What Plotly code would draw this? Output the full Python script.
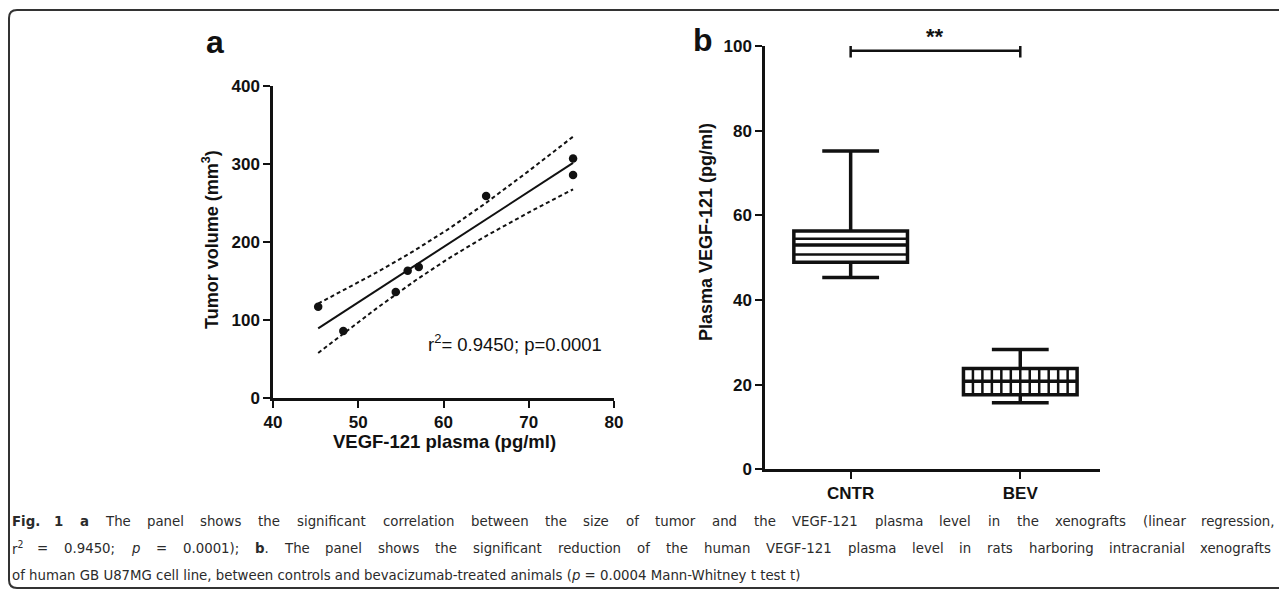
import re
import numpy as np
import plotly.graph_objects as go

W, H = 1287, 590
OFF = 8  # the page body keeps its default 8px margin

# ---------------- Panel a data ----------------
vegf_plasma = [45.3, 48.25, 54.4, 55.8, 57.1, 65.0, 75.2, 75.2]
tumor_volume = [117, 86, 136, 163, 168, 259, 307, 286]
a_xticks = [40, 50, 60, 70, 80]
a_yticks = [0, 100, 200, 300, 400]
a_stat_text = "r<sup>2</sup>= 0.9450; p=0.0001"

# ---------------- Panel b data ----------------
groups = ["CNTR", "BEV"]
b_lowerfence = [45.3, 15.7]
b_q1 = [48.9, 17.6]
b_median = [53.0, 20.8]
b_q3 = [56.3, 23.8]
b_upperfence = [75.2, 28.3]
b_yticks = [0, 20, 40, 60, 80, 100]
sig_label = "**"
sig_level = 98.9
sig_cap = [97.3, 100.4]

caption_lines = [
    "<b>Fig.</b> <b>1</b> <b>a</b> The panel shows the significant correlation between the size of tumor and the VEGF-121 plasma level in the xenografts (linear regression,",
    "r<sup>2</sup> = 0.9450; <i>p</i> = 0.0001); <b>b</b>. The panel shows the significant reduction of the human VEGF-121 plasma level in rats harboring intracranial xenografts",
    "of human GB U87MG cell line, between controls and bevacizumab-treated animals (<i>p</i> = 0.0004 Mann-Whitney t test t)",
]
caption_justified = [True, True, False]

# ---------------- regression + 95% confidence band ----------------
xa = np.array(vegf_plasma, dtype=float)
ya = np.array(tumor_volume, dtype=float)
n = len(xa)
slope, intercept = np.polyfit(xa, ya, 1)
xs = np.linspace(xa.min(), xa.max(), 80)
yfit = slope * xs + intercept
resid = ya - (slope * xa + intercept)
s = np.sqrt(np.sum(resid ** 2) / (n - 2))
t_crit = 2.4469  # t(0.975, df=6)
sxx = np.sum((xa - xa.mean()) ** 2)
half = t_crit * s * np.sqrt(1.0 / n + (xs - xa.mean()) ** 2 / sxx)
upper = yfit + half
lower = yfit - half


def px(xp):
    return (xp - OFF) / W


def py(yp):
    return 1 - (yp - OFF) / H


FONT = "Liberation Sans, Arial, sans-serif"
INK = "#111111"
BOX_W = 0.67

fig = go.Figure()

# panel a traces
for band in (upper, lower):
    fig.add_trace(go.Scatter(x=xs, y=band, mode="lines", xaxis="x", yaxis="y",
                             line=dict(color=INK, width=2, dash="4px,3px"), showlegend=False))
fig.add_trace(go.Scatter(x=xs, y=yfit, mode="lines", xaxis="x", yaxis="y",
                         line=dict(color=INK, width=2), showlegend=False))
fig.add_trace(go.Scatter(x=vegf_plasma, y=tumor_volume, mode="markers", xaxis="x", yaxis="y",
                         marker=dict(color=INK, size=8.5), showlegend=False))

# panel b boxes
fig.add_trace(go.Box(x=groups, q1=b_q1, median=b_median, q3=b_q3,
                     lowerfence=b_lowerfence, upperfence=b_upperfence,
                     xaxis="x2", yaxis="y2", width=BOX_W, whiskerwidth=0.5,
                     line=dict(color=INK, width=3.5), fillcolor="white",
                     showlegend=False))

# hatching inside the boxes (derived from box quartiles)
q1c, q3c = b_q1[0], b_q3[0]
for k in (1, 3):
    yy = q1c + k * (q3c - q1c) / 4
    fig.add_shape(type="line", xref="x2", yref="y2", x0=-BOX_W / 2, x1=BOX_W / 2, y0=yy, y1=yy,
                  line=dict(color=INK, width=2.5), layer="above")
for k in range(1, 12):
    xx = 1 - BOX_W / 2 + k * BOX_W / 12
    fig.add_shape(type="line", xref="x2", yref="y2", x0=xx, x1=xx, y0=b_q1[1], y1=b_q3[1],
                  line=dict(color=INK, width=2.5), layer="above")

axis_common = dict(showline=True, linecolor=INK, linewidth=2.5, ticks="outside",
                   ticklen=7, tickwidth=2, tickcolor=INK, showgrid=False, zeroline=False,
                   tickfont=dict(family=FONT, size=17, color=INK, weight="bold"))

fig.update_layout(
    template="none",
    width=W, height=H, autosize=False,
    margin=dict(l=0, r=0, t=0, b=0),
    paper_bgcolor="white", plot_bgcolor="white",
    font=dict(family=FONT, color=INK),
    boxmode="overlay", showlegend=False,
    xaxis=dict(domain=[px(273), px(614)], range=[40, 80], tickvals=a_xticks,
               anchor="y", **axis_common),
    yaxis=dict(domain=[py(398), py(86)], range=[0, 400], tickvals=a_yticks,
               anchor="x", **axis_common),
    xaxis2=dict(domain=[px(765), px(1100)], range=[-0.505, 1.47], type="category",
                categoryorder="array", categoryarray=groups, anchor="y2", **axis_common),
    yaxis2=dict(domain=[py(469.3), py(46)], range=[0, 100], tickvals=b_yticks,
                anchor="x2", **axis_common),
)

# significance bracket
fig.add_shape(type="line", xref="x2", yref="y2", x0=0, x1=1, y0=sig_level, y1=sig_level,
              line=dict(color=INK, width=2.5))
for cx in [0, 1]:
    fig.add_shape(type="line", xref="x2", yref="y2", x0=cx, x1=cx, y0=sig_cap[0], y1=sig_cap[1],
                  line=dict(color=INK, width=2.5))
fig.add_annotation(x=0.5, y=sig_level, xref="x2", yref="y2", text=sig_label, showarrow=False,
                   yanchor="bottom", font=dict(family=FONT, size=22, color=INK, weight="bold"))

# panel labels and axis titles
ann = [
    dict(x=px(215), y=py(42), text="<b>a</b>", size=32, angle=0),
    dict(x=px(703), y=py(40), text="<b>b</b>", size=32, angle=0),
    dict(x=px(210), y=py(240), text="<b>Tumor volume (mm<sup>3</sup>)</b>", size=18, angle=-90),
    dict(x=px(444), y=py(442), text="<b>VEGF-121 plasma (pg/ml)</b>", size=18.5, angle=0),
    dict(x=px(706), y=py(232), text="<b>Plasma VEGF-121 (pg/ml)</b>", size=18, angle=-90),
]
for a in ann:
    fig.add_annotation(x=a["x"], y=a["y"], xref="paper", yref="paper", text=a["text"],
                       showarrow=False, textangle=a["angle"], xanchor="center", yanchor="middle",
                       font=dict(family=FONT, size=a["size"], color=INK))

fig.add_annotation(x=px(426), y=py(343), xref="paper", yref="paper", text=a_stat_text,
                   showarrow=False, xanchor="left", yanchor="middle",
                   font=dict(family=FONT, size=18.5, color=INK))

# ---------------- caption (justified like the journal layout) ----------------
CAP_FONT = "DejaVu Sans Condensed, DejaVu Sans, sans-serif"
CAP_SIZE = 14.8
CAP_COLOR = "#2b2b2b"
LAST_LINE_WIDTH = 790.6  # measured natural width of the last line at CAP_SIZE
# DejaVu Sans advance widths (1/2048 em), used for relative word widths
_DV = {" ": 651, "(": 799, ")": 799, ",": 651, "-": 739, ".": 651, "/": 690, ";": 690,
       ":": 690, "=": 1716,
       "A": 1401, "B": 1405, "C": 1430, "D": 1577, "E": 1294, "F": 1178, "G": 1587,
       "H": 1540, "I": 604, "J": 604, "K": 1343, "L": 1141, "M": 1767, "N": 1532,
       "O": 1612, "P": 1235, "Q": 1612, "R": 1423, "S": 1300, "T": 1251, "U": 1499,
       "V": 1401, "W": 2025, "X": 1403, "Y": 1251, "Z": 1403,
       "a": 1255, "b": 1300, "c": 1126, "d": 1300, "e": 1260, "f": 721, "g": 1300,
       "h": 1298, "i": 569, "j": 569, "k": 1186, "l": 569, "m": 1995, "n": 1298,
       "o": 1253, "p": 1300, "q": 1300, "r": 842, "s": 1067, "t": 803, "u": 1298,
       "v": 1212, "w": 1675, "x": 1212, "y": 1212, "z": 1075}


def word_units(token):
    bold = "<b>" in token
    sup = re.findall(r"<sup>(.*?)</sup>", token)
    plain = re.sub(r"<sup>.*?</sup>", "", token)
    plain = re.sub(r"<[^>]+>", "", plain)
    units = sum(_DV.get(ch, 1303) for ch in plain)
    units += sum(0.7 * _DV.get(ch, 1303) for s_ in sup for ch in s_)
    return units * (1.12 if bold else 1.0)


# calibrate the relative widths against the last line's rendered width
words3 = caption_lines[2].split(" ")
units3 = sum(word_units(wd) for wd in words3) + (len(words3) - 1) * _DV[" "]
px_per_unit = LAST_LINE_WIDTH / units3

cap_left = 10
cap_rights = [1277, 1273, None]
for line, yy, just, xr in zip(caption_lines, [520, 547, 574], caption_justified, cap_rights):
    if not just:
        fig.add_annotation(x=px(cap_left), y=py(yy), xref="paper", yref="paper", text=line,
                           showarrow=False, xanchor="left", yanchor="middle", align="left",
                           font=dict(family=CAP_FONT, size=CAP_SIZE, color=CAP_COLOR))
        continue
    words = line.split(" ")
    widths = [word_units(wd) * px_per_unit for wd in words]
    gap = (xr - cap_left - sum(widths)) / (len(words) - 1)
    xcur = cap_left
    for i, (wd, ww) in enumerate(zip(words, widths)):
        if i == 0:
            xpos, anchor = xcur, "left"
        elif i == len(words) - 1:
            xpos, anchor = xr, "right"
        else:
            xpos, anchor = xcur + ww / 2, "center"
        fig.add_annotation(x=px(xpos), y=py(yy), xref="paper", yref="paper",
                           text=wd, showarrow=False, xanchor=anchor, yanchor="middle",
                           font=dict(family=CAP_FONT, size=CAP_SIZE, color=CAP_COLOR))
        xcur += ww + gap

# rounded frame
r = 8
path = (f"M {px(W + 20)},{py(10)} L {px(9 + r)},{py(10)} "
        f"Q {px(9)},{py(10)} {px(9)},{py(10 + r)} "
        f"L {px(9)},{py(588 - r)} Q {px(9)},{py(588)} {px(9 + r)},{py(588)} "
        f"L {px(W + 20)},{py(588)}")
fig.add_shape(type="path", xref="paper", yref="paper", path=path,
              line=dict(color="#333333", width=2), layer="above")

fig.write_html("out.html", config={"displayModeBar": False})
